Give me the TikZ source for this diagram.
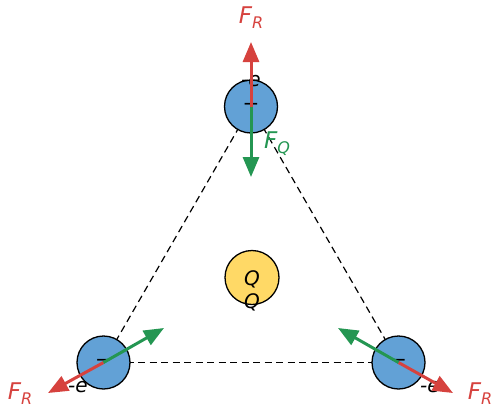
\documentclass[tikz,border=0pt]{standalone}
\usepackage{fontspec}
\setmainfont{DejaVu Sans}
\usetikzlibrary{arrows.meta}
\definecolor{chargeblue}{RGB}{98,161,214}
\definecolor{qyellow}{RGB}{255,217,102}
\definecolor{fred}{RGB}{214,66,62}
\definecolor{fgreen}{RGB}{36,150,82}
\newcommand{\FR}{{\itshape F\raisebox{-5pt}{\fontsize{16}{16}\selectfont R}}}
\newcommand{\FQ}{{\itshape F\raisebox{-5pt}{\fontsize{16}{16}\selectfont Q}}}
\begin{document}
\begin{tikzpicture}[x=1pt,y=-1pt,
  charge/.style={circle, draw=black, line width=1.3pt, fill=chargeblue, minimum size=53pt, inner sep=0pt},
  central/.style={circle, draw=black, line width=1.3pt, fill=qyellow, minimum size=54pt, inner sep=0pt},
  sign/.style={inner sep=0pt, font=\fontsize{20}{20}\selectfont},
  lab/.style={inner sep=0pt, font=\fontsize{20}{20}\selectfont\itshape},
  flab/.style={inner sep=0pt, font=\fontsize{23}{23}\selectfont},
  side/.style={dashed, dash pattern=on 7pt off 4.5pt, line width=1.2pt, black},
  rforce/.style={draw=fred, line width=3pt, -{Triangle[length=20pt,width=16pt]}},
  qforce/.style={draw=fgreen, line width=3pt, -{Triangle[length=20pt,width=16pt]}}
]
\useasboundingbox (0,0) rectangle (495,408);
% coordinates
\coordinate (ct) at (251,106.5);
\coordinate (cl) at (103.5,362.5);
\coordinate (cr) at (398.5,362.5);
% dashed triangle
\draw[side] (ct) -- (cl);
\draw[side] (cl) -- (cr);
\draw[side] (cr) -- (ct);
% charges
\node[charge] (top) at (ct) {};
\node[charge] (left) at (cl) {};
\node[charge] (right) at (cr) {};
\node[central] (q) at (252,277.5) {};
\node[lab] (qin) at (252,279) {Q};
\node[lab] (qout) at (252,302) {Q};
% signs
\node[sign] (topsign) at (top.center) {−};
\node[sign] (leftsign) at (left.center) {−};
\node[sign] (rightsign) at (right.center) {−};
% charge labels
\node[lab] (tope) at (251,81.5) {-e};
\node[lab] (lefte) at (78,387.5) {-e};
\node[lab] (righte) at (430,387.5) {-e};
% force tips
\coordinate (trt) at (251,42);
\coordinate (tqt) at (251,177);
\coordinate (lrt) at (48,393);
\coordinate (lqt) at (164,328);
\coordinate (rrt) at (453,393);
\coordinate (rqt) at (338,328);
% forces
\draw[rforce] (top.center) -- (trt);
\draw[qforce] (top.center) -- (tqt);
\draw[rforce] (left.center) -- (lrt);
\draw[qforce] (left.center) -- (lqt);
\draw[rforce] (right.center) -- (rrt);
\draw[qforce] (right.center) -- (rqt);
% force labels
\node[flab, text=fred] (ftop) at (251,18) {\FR};
\node[flab, text=fgreen] (fq) at (277,143.5) {\FQ};
\node[flab, text=fred] (fleft) at (20,393.5) {\FR};
\node[flab, text=fred] (fright) at (480,393.5) {\FR};
\end{tikzpicture}
\end{document}
